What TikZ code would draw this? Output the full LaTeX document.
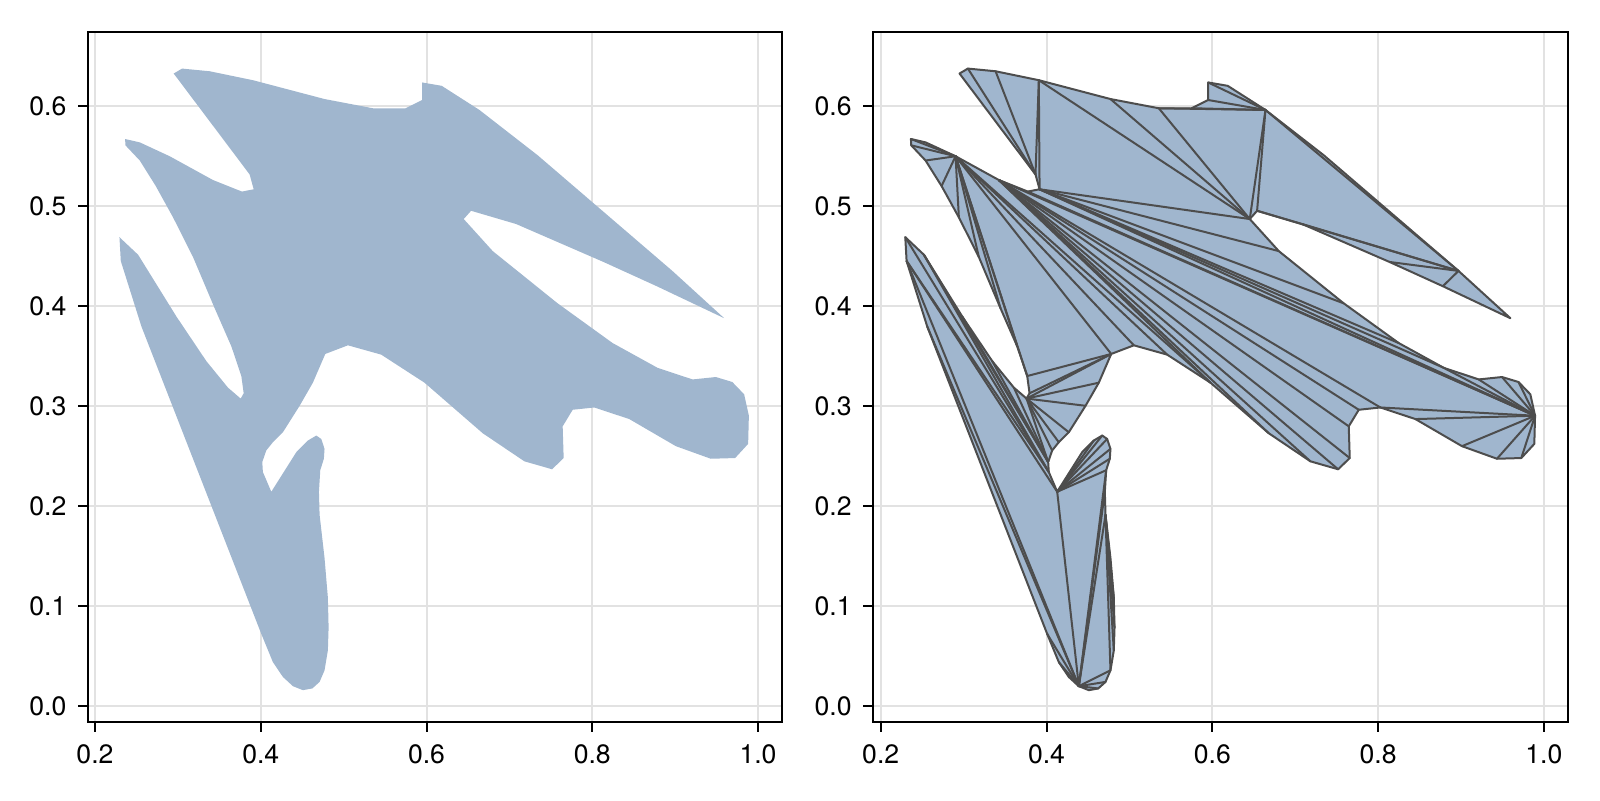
\documentclass[tikz,border=0pt]{standalone}
\usepackage{fontspec}
\setmainfont{TeX Gyre Heros}
\definecolor{shapefill}{RGB}{160,182,206}
\definecolor{edgecol}{RGB}{77,77,77}
\definecolor{gridcol}{RGB}{226,226,226}
\tikzset{
  gridline/.style={draw=gridcol, line width=1pt},
  axframe/.style={draw=black, line width=1pt},
  tickmark/.style={draw=black, line width=1pt},
  shapearea/.style={fill=shapefill},
  triedge/.style={draw=edgecol, line width=1pt, line join=round, line cap=round},
  ticklab/.style={inner sep=0pt, font=\fontsize{13.3}{16}\selectfont},
}
\newcommand\defshape{%
\coordinate (p1) at (0.2953,0.6377);
\coordinate (p2) at (0.3054,0.6427);
\coordinate (p3) at (0.3388,0.6400);
\coordinate (p4) at (0.3910,0.6310);
\coordinate (p5) at (0.4775,0.6120);
\coordinate (p6) at (0.5358,0.6027);
\coordinate (p7) at (0.5753,0.6027);
\coordinate (p8) at (0.5954,0.6110);
\coordinate (p9) at (0.5954,0.6287);
\coordinate (p10) at (0.6190,0.6253);
\coordinate (p11) at (0.6646,0.6010);
\coordinate (p12) at (0.7349,0.5553);
\coordinate (p13) at (0.8976,0.4387);
\coordinate (p14) at (0.9602,0.3910);
\coordinate (p15) at (0.8787,0.4233);
\coordinate (p16) at (0.8144,0.4477);
\coordinate (p17) at (0.7088,0.4860);
\coordinate (p18) at (0.6545,0.4993);
\coordinate (p19) at (0.6456,0.4910);
\coordinate (p20) at (0.6806,0.4587);
\coordinate (p21) at (0.7590,0.4060);
\coordinate (p22) at (0.8254,0.3660);
\coordinate (p23) at (0.8797,0.3410);
\coordinate (p24) at (0.9220,0.3293);
\coordinate (p25) at (0.9501,0.3317);
\coordinate (p26) at (0.9700,0.3267);
\coordinate (p27) at (0.9843,0.3143);
\coordinate (p28) at (0.9900,0.2927);
\coordinate (p29) at (0.9891,0.2643);
\coordinate (p30) at (0.9734,0.2500);
\coordinate (p31) at (0.9440,0.2493);
\coordinate (p32) at (0.9018,0.2620);
\coordinate (p33) at (0.8456,0.2893);
\coordinate (p34) at (0.8033,0.3010);
\coordinate (p35) at (0.7772,0.2987);
\coordinate (p36) at (0.7651,0.2820);
\coordinate (p37) at (0.7663,0.2500);
\coordinate (p38) at (0.7523,0.2387);
\coordinate (p39) at (0.7189,0.2467);
\coordinate (p40) at (0.6686,0.2750);
\coordinate (p41) at (0.5982,0.3260);
\coordinate (p42) at (0.5459,0.3543);
\coordinate (p43) at (0.5057,0.3637);
\coordinate (p44) at (0.4784,0.3550);
\coordinate (p45) at (0.4634,0.3260);
\coordinate (p46) at (0.4474,0.3027);
\coordinate (p47) at (0.4272,0.2760);
\coordinate (p48) at (0.4151,0.2660);
\coordinate (p49) at (0.4071,0.2577);
\coordinate (p50) at (0.4023,0.2460);
\coordinate (p51) at (0.4030,0.2360);
\coordinate (p52) at (0.4132,0.2160);
\coordinate (p53) at (0.4434,0.2560);
\coordinate (p54) at (0.4574,0.2677);
\coordinate (p55) at (0.4675,0.2727);
\coordinate (p56) at (0.4735,0.2693);
\coordinate (p57) at (0.4775,0.2593);
\coordinate (p58) at (0.4767,0.2493);
\coordinate (p59) at (0.4723,0.2377);
\coordinate (p60) at (0.4707,0.2160);
\coordinate (p61) at (0.4715,0.1927);
\coordinate (p62) at (0.4775,0.1493);
\coordinate (p63) at (0.4815,0.1093);
\coordinate (p64) at (0.4824,0.0793);
\coordinate (p65) at (0.4815,0.0560);
\coordinate (p66) at (0.4775,0.0360);
\coordinate (p67) at (0.4715,0.0243);
\coordinate (p68) at (0.4627,0.0177);
\coordinate (p69) at (0.4514,0.0160);
\coordinate (p70) at (0.4393,0.0200);
\coordinate (p71) at (0.4272,0.0293);
\coordinate (p72) at (0.4151,0.0443);
\coordinate (p73) at (0.4011,0.0727);
\coordinate (p74) at (0.2563,0.3827);
\coordinate (p75) at (0.2314,0.4487);
\coordinate (p76) at (0.2298,0.4727);
\coordinate (p77) at (0.2523,0.4550);
\coordinate (p78) at (0.2986,0.3927);
\coordinate (p79) at (0.3348,0.3477);
\coordinate (p80) at (0.3609,0.3210);
\coordinate (p81) at (0.3762,0.3100);
\coordinate (p82) at (0.3798,0.3153);
\coordinate (p83) at (0.3770,0.3327);
\coordinate (p84) at (0.3649,0.3627);
\coordinate (p85) at (0.3448,0.4010);
\coordinate (p86) at (0.3186,0.4527);
\coordinate (p87) at (0.2945,0.4927);
\coordinate (p88) at (0.2736,0.5243);
\coordinate (p89) at (0.2543,0.5500);
\coordinate (p90) at (0.2370,0.5653);
\coordinate (p91) at (0.2366,0.5717);
\coordinate (p92) at (0.2543,0.5683);
\coordinate (p93) at (0.2905,0.5543);
\coordinate (p94) at (0.3428,0.5303);
\coordinate (p95) at (0.3777,0.5187);
\coordinate (p96) at (0.3919,0.5210);
\coordinate (p97) at (0.3870,0.5360);
}
\newcommand\axesgrid[4]{%
  \foreach \gx in {0.2,0.4,0.6,0.8,1.0} \draw[gridline] (\gx,-0.0157) -- (\gx,0.674);
  \foreach \gy in {0.0,0.1,0.2,0.3,0.4,0.5,0.6} \draw[gridline] (#2,\gy) -- (#3,\gy);
}
\newcommand\axesframe[4]{%
  \draw[axframe] (#2,-0.0157) rectangle (#3,0.674);
  \foreach \gx [count=\k] in {0.2,0.4,0.6,0.8,1.0} {
    \draw[tickmark] (\gx,-0.0157) -- (\gx,-0.0257);
    \node[ticklab, anchor=north] (xl#1\k) at (\gx,-0.0383) {\gx};
  }
  \foreach \gy [count=\k] in {0.0,0.1,0.2,0.3,0.4,0.5,0.6} {
    \draw[tickmark] (#2,\gy) -- ({#2-0.01207},\gy);
    \node[ticklab, anchor=east] (yl#1\k) at (#4,\gy) {\gy};
  }
}
\begin{document}
\begin{tikzpicture}[x=0.5pt, y=0.5pt]
\useasboundingbox (0,0) rectangle (1600,800);
% left panel
\begin{scope}[shift={(-70.75,94)}, xscale=828.75, yscale=1000]
  \axesgrid{L}{0.19155}{1.0286}{0.16586}
  \defshape
  \fill[shapearea] (p1) \foreach \i in {2,...,97} { -- (p\i) } -- cycle;
  \axesframe{L}{0.19155}{1.0286}{0.16586}
\end{scope}
% right panel
\begin{scope}[shift={(714.9,94)}, xscale=829, yscale=1000]
  \axesgrid{R}{0.19107}{1.02943}{0.16538}
  \defshape
  \fill[shapearea] (p1) \foreach \i in {2,...,97} { -- (p\i) } -- cycle;
  \foreach \a/\b in {2/97,3/97,4/97,4/96,4/19,96/19,5/19,6/19,6/11,7/11,8/11,9/11,11/19,11/18,11/13,13/18,13/17,13/16,13/15,
    96/20,96/21,96/22,96/23,96/28,23/28,24/28,25/28,26/28,95/28,94/28,94/34,28/30,28/31,28/32,28/33,28/34,
    94/35,94/36,94/37,94/38,94/39,94/40,94/41,
    93/41,93/42,93/43,93/44,93/83,93/84,93/85,93/86,93/87,93/88,93/89,93/90,93/91,
    83/44,82/44,81/44,81/45,81/46,81/47,81/48,81/49,81/50,50/80,50/79,50/78,50/77,51/77,51/76,51/75,52/75,
    70/75,70/74,70/73,70/72,52/70,52/54,52/55,52/56,52/57,52/58,52/59,
    70/59,70/60,70/61,61/63,61/64,61/65,61/66,66/70,67/70,68/70}
    \draw[triedge] (p\a) -- (p\b);
  \draw[triedge] (p1) \foreach \i in {2,...,97} { -- (p\i) } -- cycle;
  \axesframe{R}{0.19107}{1.02943}{0.16538}
\end{scope}
\end{tikzpicture}
\end{document}
